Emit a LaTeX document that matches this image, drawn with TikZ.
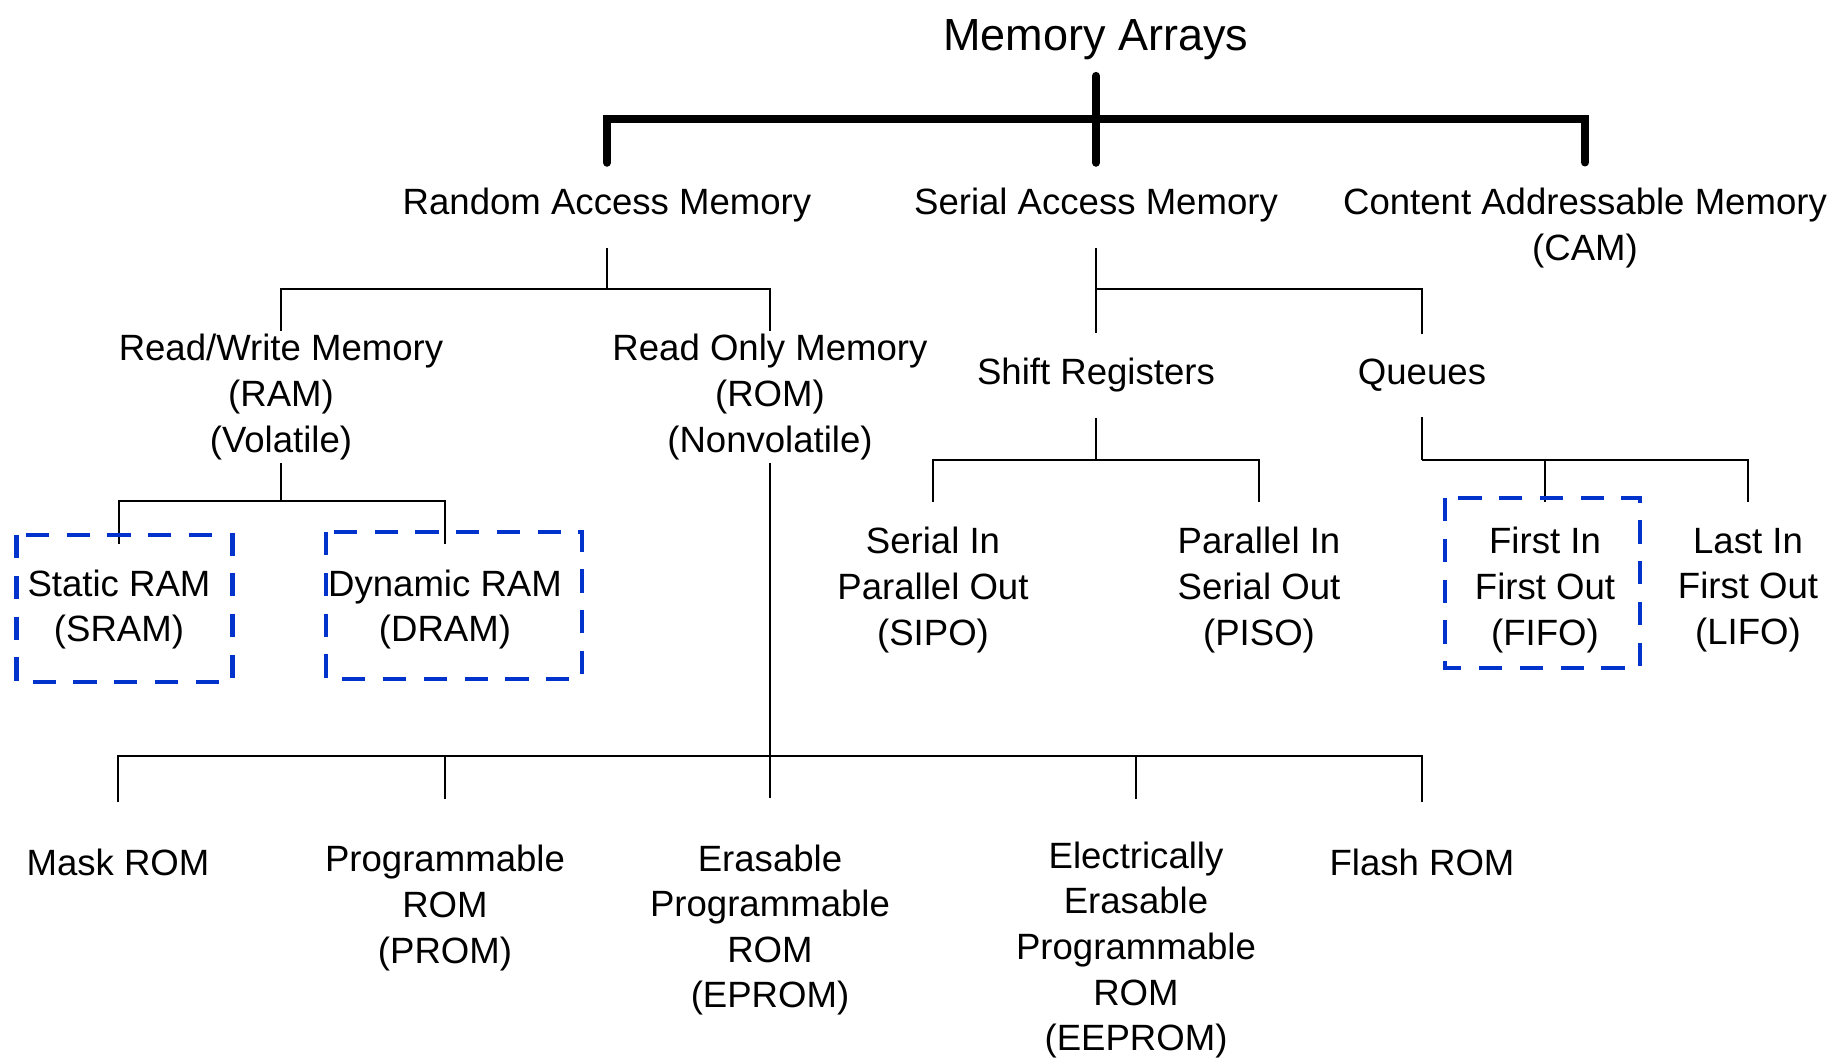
\documentclass[tikz,border=0pt]{standalone}
\usepackage{fontspec}
\setmainfont{Liberation Sans}
\definecolor{azul}{RGB}{0,51,204}
\tikzset{
	texto/.style={align=center, inner xsep=0pt, inner ysep=0.25cm, font=\fontsize{10.4}{12.95}\selectfont},
	gruesa/.style={line width=0.8mm, line cap=round},
	fina/.style={line width=0.25mm},
	caja/.style={draw=azul, line width=0.47mm, dash pattern=on 6.6pt off 5pt}
}
\begin{document}
\begin{tikzpicture}[x=0.01cm, y=-0.01cm]
	\useasboundingbox (0,0) rectangle (1835,1059);
	% nodos
	\node[texto, font=\fontsize{12.8}{15}\selectfont, inner ysep=0.15cm] (raiz) at (1096,40) {Memory Arrays};
	\node[texto] (ram) at (607,205.5) {Random Access Memory};
	\node[texto] (sam) at (1096,205.5) {Serial Access Memory};
	\node[texto] (cam) at (1585,228) {Content Addressable Memory\\(CAM)};
	\node[texto, inner ysep=0.025cm] (rw) at (281,397) {Read/Write Memory\\(RAM)\\(Volatile)};
	\node[texto, inner ysep=0.025cm] (rom) at (770,397) {Read Only Memory\\(ROM)\\(Nonvolatile)};
	\node[texto] (sr) at (1096,375.5) {Shift Registers};
	\node[texto] (q) at (1422,375.5) {Queues};
	\node[texto] (sram) at (119,609.5) {Static RAM\\(SRAM)};
	\node[texto] (dram) at (445,609.5) {Dynamic RAM\\(DRAM)};
	\node[texto] (sipo) at (933,590) {Serial In\\Parallel Out\\(SIPO)};
	\node[texto] (piso) at (1259,590) {Parallel In\\Serial Out\\(PISO)};
	\node[texto] (fifo) at (1545,590) {First In\\First Out\\(FIFO)};
	\node[texto] (lifo) at (1748,590) {Last In\\First Out\\(LIFO)};
	\node[texto, inner ysep=0.46cm] (mask) at (118,862) {Mask ROM};
	\node[texto, inner ysep=0.46cm] (prom) at (445,908) {Programmable\\ROM\\(PROM)};
	\node[texto, inner ysep=0.46cm] (eprom) at (770,930) {Erasable\\Programmable\\ROM\\(EPROM)};
	\node[texto, inner ysep=0.42cm] (eeprom) at (1136,950) {Electrically\\Erasable\\Programmable\\ROM\\(EEPROM)};
	\node[texto, inner ysep=0.46cm] (flash) at (1422,862) {Flash ROM};
	% puntos de union
	\coordinate (jtop) at (1096,119);
	\coordinate (jram) at (607,289);
	\coordinate (jsam) at (1096,289);
	\coordinate (jrw) at (281,501);
	\coordinate (jrom) at (770,756);
	\coordinate (jsr) at (1096,460);
	\coordinate (jq) at (1422,460);
	% ramas gruesas
	\draw[gruesa] (raiz) -- (sam);
	\draw[gruesa] (ram.north) |- (jtop) -| (cam.north);
	% ramas finas
	\draw[fina] (ram) -- (jram);
	\draw[fina] (rw.north) |- (jram) -| (rom.north);
	\draw[fina] (sam) -- (sr);
	\draw[fina] (jsam) -| (q.north);
	\draw[fina] (rw) -- (jrw);
	\draw[fina] (sram.north) |- (jrw) -| (dram.north);
	\draw[fina] (rom) -- (eprom);
	\draw[fina] (mask.north) |- (jrom) -| (flash.north);
	\foreach \hijo in {prom,eeprom}
		\draw[fina] (\hijo.north) -- (\hijo.north |- jrom);
	\draw[fina] (sr) -- (jsr);
	\draw[fina] (sipo.north) |- (jsr) -| (piso.north);
	\draw[fina] (q) -- (jq);
	\draw[fina] (jq) -| (lifo.north);
	\draw[fina] (fifo.north) -- (fifo.north |- jq);
	% cajas punteadas
	\draw[caja] (16.5,535) rectangle (232.5,682);
	\draw[caja] (326,532) rectangle (582,679);
	\draw[caja] (1445,498) rectangle (1640,668);
\end{tikzpicture}
\end{document}
